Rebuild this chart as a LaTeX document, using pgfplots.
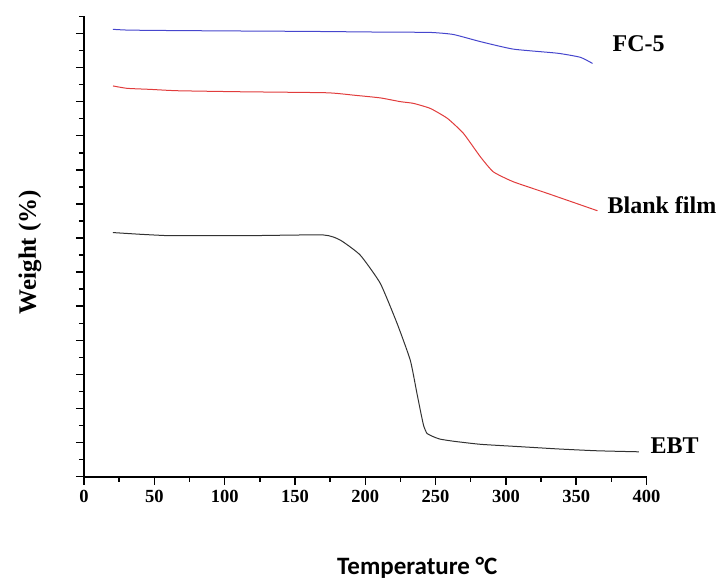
\documentclass[border=0pt]{standalone}
\usepackage{fontspec}
\setmainfont{Liberation Serif}
\newfontfamily\calibri{Carlito}
\usepackage{pgfplots}
\pgfplotsset{compat=1.18}
\definecolor{fcblue}{RGB}{70,70,205}
\definecolor{blankred}{RGB}{225,60,60}
\definecolor{ebtgray}{RGB}{50,50,50}
\begin{document}
\begin{tikzpicture}
\useasboundingbox (0pt,0pt) rectangle (721pt,581pt);
\begin{axis}[
  at={(84pt,104.3pt)}, anchor=south west,
  scale only axis, width=562.5pt, height=460.3pt,
  xmin=0, xmax=400, ymin=0, ymax=13.5,
  axis x line*=bottom, axis y line*=left,
  axis line style={line width=1.8pt, black},
  xtick={0,50,100,150,200,250,300,350,400},
  xticklabels={0,50,100,150,200,250,300,350,400},
  minor xtick={25,75,...,375},
  ytick={0,1,...,13}, minor ytick={0.5,1.5,...,13.5},
  yticklabels={},
  tick align=outside,
  major tick length=8pt, minor tick length=5pt,
  every tick/.style={line width=1.5pt, black},
  xticklabel style={font=\fontsize{18.5}{20}\selectfont\bfseries, yshift=-2pt},
  clip=false,
]
\addplot[fcblue, line width=1pt, smooth, tension=0.3] coordinates {
(20.6,13.12) (30,13.10) (47,13.09) (80,13.08) (118,13.07) (160,13.06)
(210.7,13.04) (246,13.03) (262.6,12.97) (281.9,12.76) (305.3,12.54)
(336.7,12.42) (353,12.30) (361.6,12.12)};
\addplot[blankred, line width=1pt, smooth, tension=0.3] coordinates {
(20.6,11.46) (30.6,11.39) (47,11.36) (66.2,11.32) (111,11.29) (172.7,11.26)
(191.7,11.19) (210.7,11.11) (224.9,11.0) (234.2,10.95) (246.3,10.80)
(258.4,10.51) (269.8,10.07) (281.9,9.38) (291.1,8.94) (305.3,8.65)
(329.5,8.31) (365.1,7.80)};
\addplot[ebtgray, line width=1pt, smooth, tension=0.3] coordinates {
(20.6,7.16) (39.9,7.11) (59.1,7.07) (68.3,7.07) (118,7.07) (170.1,7.09)
(182.2,6.94) (196.4,6.50) (210.7,5.67) (222.6,4.50) (232.0,3.42)
(236.5,2.5) (239.1,1.96) (241.5,1.5) (243.9,1.27) (248.6,1.17)
(253.4,1.10) (262.8,1.04) (281.9,0.95) (310.3,0.88) (338.8,0.81)
(364.9,0.76) (394.5,0.73)};
\node[anchor=west, inner sep=0pt, font=\fontsize{24}{24}\selectfont\bfseries] at (axis cs:375.8,12.69) {FC-5};
\node[anchor=west, inner sep=0pt, font=\fontsize{24}{24}\selectfont\bfseries] at (axis cs:372.2,7.97) {Blank film};
\node[anchor=west, inner sep=0pt, font=\fontsize{24}{24}\selectfont\bfseries] at (axis cs:402.8,0.91) {EBT};
\end{axis}
\node[rotate=90, inner sep=0pt, font=\fontsize{25}{25}\selectfont\bfseries] at (30pt,329pt) {Weight (\%)};
\node[anchor=base west, inner sep=0pt, font=\fontsize{25}{25}\selectfont\calibri\bfseries] at (337pt,6pt) {Temperature °C};
\end{tikzpicture}
\end{document}
